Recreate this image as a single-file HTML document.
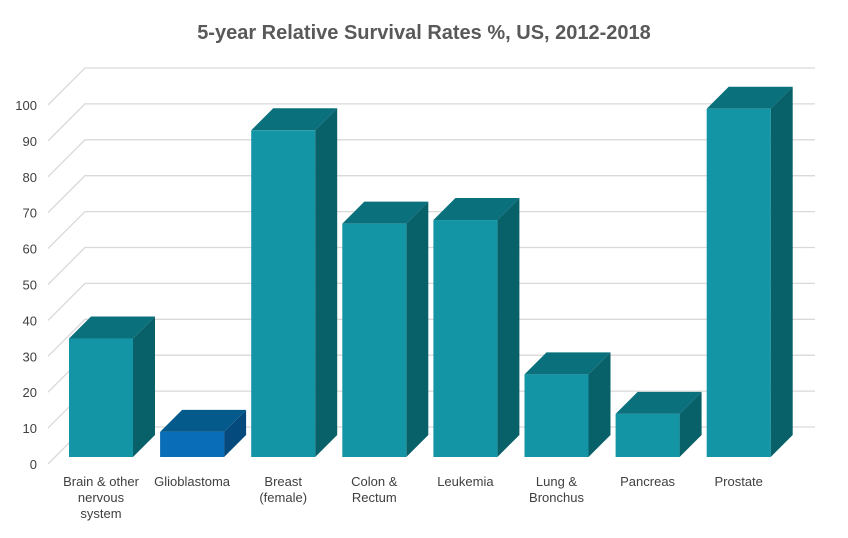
<!DOCTYPE html>
<html><head><meta charset="utf-8"><style>
body{margin:0;background:#fff;}
svg text{font-family:"Liberation Sans",Arial,sans-serif;}
</style></head><body>
<svg id="chart" width="848" height="533" xmlns="http://www.w3.org/2000/svg">
<g id="grid"></g><g id="bars"></g><g id="labels"></g>
<text x="424" y="39" text-anchor="middle" font-size="20" font-weight="bold" fill="#595959">5-year Relative Survival Rates %, US, 2012-2018</text>
</svg>
<script>
const categories=[["Brain & other","nervous","system"],["Glioblastoma"],["Breast","(female)"],["Colon &","Rectum"],["Leukemia"],["Lung &","Bronchus"],["Pancreas"],["Prostate"]];
const values=[33,7,91,65,66,23,12,97];
const highlight=[false,true,false,false,false,false,false,false];
const ticks=[0,10,20,30,40,50,60,70,80,90,100];
const tickLabels=["0","10","20","30","40","50","60","70","80","90","100"];
const NS="http://www.w3.org/2000/svg";
const backZero=427, unit=3.59, barZero=457;
function yBack(v){return backZero-v*unit;}
function yBar(v){return barZero-v*unit;}
function xBar(i){return 69+i*91.1;}
function mk(t,a,p){const e=document.createElementNS(NS,t);for(const k in a)e.setAttribute(k,a[k]);p.appendChild(e);return e;}
const grid=document.getElementById('grid'),bars=document.getElementById('bars'),labels=document.getElementById('labels');
ticks.forEach((t,i)=>{const y=yBack(t);
 const l=mk('polyline',{points:`48,${y+37} 85,${y} 815,${y}`,fill:'none',stroke:'#d9d9d9','stroke-width':1.3},grid);
 
 
 const tx=mk('text',{x:37,y:y+37+5,'text-anchor':'end','font-size':13,fill:'#404040'},labels);tx.textContent=tickLabels[i];
 
 
});
const D=22,W=64;
values.forEach((v,i)=>{const x=xBar(i),yt=yBar(v),yb=barZero;
 const h=highlight[i];
 const g=mk('g',{},bars);
 
 
 mk('polygon',{points:`${x},${yt} ${x+D},${yt-D} ${x+W+D},${yt-D} ${x+W},${yt}`,fill:h?'#055a8c':'#0a717c'},g);
 mk('polygon',{points:`${x+W},${yt} ${x+W+D},${yt-D} ${x+W+D},${yb-D} ${x+W},${yb}`,fill:h?'#044a7c':'#086068'},g);
 mk('rect',{x:x,y:yt,width:W,height:yb-yt,fill:h?'#0a6db8':'#1395a5'},g);
 const tx=mk('text',{x:x+W/2,y:486,'text-anchor':'middle','font-size':13,fill:'#404040'},labels);
 
 
 categories[i].forEach((ln,j)=>{const s=mk('tspan',{x:x+W/2,dy:j?16:0},tx);s.textContent=ln;});
});
</script>
</body></html>
